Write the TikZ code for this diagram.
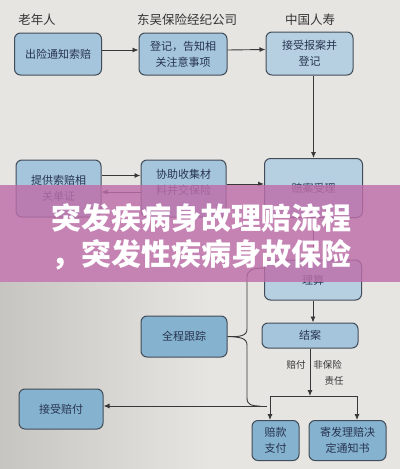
\documentclass[tikz,border=0pt]{standalone}
\usepackage{fontspec}
\setmainfont{Noto Sans CJK SC}
\usetikzlibrary{arrows.meta}
\definecolor{paper}{RGB}{231,229,225}
\definecolor{boxblue}{RGB}{164,197,219}
\definecolor{deepblue}{RGB}{132,178,207}
\definecolor{paleblue}{RGB}{182,208,225}
\definecolor{boxedge}{RGB}{66,76,88}
\definecolor{inkblue}{RGB}{40,52,80}
\definecolor{bannerpink}{RGB}{190,110,170}
\tikzset{
  wire/.style={draw=black!78,line width=0.9pt},
  flow/.style={wire,-{Latex[length=6pt,width=5pt]}},
  stepbox/.style={draw=boxedge,line width=1pt,fill=boxblue,rounded corners=6pt,
                  minimum width=86pt,minimum height=42pt,inner sep=2pt,align=center,
                  text=inkblue,font=\fontsize{11}{16}\selectfont},
  darkbox/.style={stepbox,fill=deepblue},
  palebox/.style={stepbox,fill=paleblue},
  head/.style={font=\fontsize{12.5}{14}\selectfont,text=black!80},
  tag/.style={font=\fontsize{9.5}{11}\selectfont,text=black!80},
  banner/.style={anchor=west,inner sep=0pt,text=white,font=\fontsize{30}{36}\selectfont\bfseries},
}
\begin{document}
\begin{tikzpicture}[x=1pt,y=-1pt]
  \path[use as bounding box,fill=paper] (0,0) rectangle (400,469);
  \shade[left color=black!14!paper,right color=paper] (0,282) rectangle (210,469);

  % column heads
  \node[head] (hOld) at (37,20) {老年人};
  \node[head] (hBroker) at (187,20) {东吴保险经纪公司};
  \node[head] (hLife) at (310,20) {中国人寿};

  % first row
  \node[stepbox,minimum width=87pt] (notify) at (58,54) {出险通知索赔};
  \node[stepbox,minimum width=88pt] (register) at (183,54) {登记，告知相\\关注意事项};
  \node[palebox,minimum width=87pt,minimum height=43pt] (report) at (309.5,53.5) {接受报案并\\登记};
  \draw[flow] ([yshift=4pt]notify.east) -- ([yshift=4pt]register.west);
  \draw[flow] ([yshift=4pt]register.east) -- ([yshift=4pt]report.west);

  % second row
  \node[stepbox,minimum width=85pt,minimum height=57pt] (papers) at (58.5,188.5) {提供索赔相\\关单证};
  \node[stepbox,minimum width=85pt,minimum height=57pt,text depth=14pt] (collect) at (183.5,188.5) {协助收集材\\料并交保险};
  \node[palebox,minimum width=98pt,minimum height=59pt] (accept) at (313.5,188) {赔案受理};
  \draw[flow] (accept.north |- report.south) -- (accept.north);
  \draw[flow] ([yshift=13pt]papers.east) -- ([yshift=13pt]collect.west);
  \draw[flow] ([yshift=-3.5pt]collect.west) -- ([yshift=-3.5pt]papers.east);
  \draw[flow] ([yshift=4.5pt]collect.east) -- ([yshift=4.5pt]collect.east -| accept.west);

  % settlement column
  \node[palebox,minimum width=97pt,minimum height=40pt] (adjust) at (313,280) {理算};
  \node[stepbox,minimum width=96pt,minimum height=25pt] (close) at (310,335.5) {结案};
  \draw[flow] (accept.south) -- (accept.south |- adjust.north);
  \draw[flow] (adjust.south) -- (adjust.south |- close.north);

  \node[darkbox,minimum width=86pt,minimum height=41pt] (track) at (184,336.5) {全程跟踪};
  \node[darkbox,minimum width=84pt,minimum height=40pt] (receive) at (61,409) {接受赔付};
  \node[darkbox,minimum width=47pt,minimum height=40pt] (payout) at (275.5,440.5) {赔款\\支付};
  \node[darkbox,minimum width=77pt,minimum height=40pt] (mailing) at (347.5,440.5) {寄发理赔决\\定通知书};

  \coordinate (split) at (310,396);
  \coordinate (payTurn) at (270,396);
  \coordinate (mailTurn) at (357,396);
  \draw[flow] (close.south) -- (split);
  \draw[wire] (payTurn) -- (mailTurn);
  \draw[flow] (payTurn) -- (payTurn |- payout.north);
  \draw[flow] (mailTurn) -- (mailTurn |- mailing.north);
  \node[tag] (tPay) at (296,365) {赔付};
  \node[tag] (tNon) at (327.5,365) {非保险};
  \node[tag] (tDuty) at (334,381) {责任};

  % brace round the tracking box
  \coordinate (braceTop) at (265,268);
  \coordinate (payBack) at (267,406);
  \draw[wire] (braceTop) .. controls (252,268) and (247,270) .. (247,278) -- (247,329)
    .. controls (247,336) and (240,337) .. (track.east)
    .. controls (240,337) and (247,338) .. (247,345) -- (247,398)
    .. controls (247,405) and (252,406) .. (260,406);
  \draw[flow] (payBack) -- (payBack -| receive.east);

  % title banner
  \fill[bannerpink,opacity=0.82] (0,185) rectangle (400,282);
  \node[banner] (title1) at (51,218) {突发疾病身故理赔流程};
  \node[banner] (title2) at (51,255) {，突发性疾病身故保险};
\end{tikzpicture}
\end{document}
